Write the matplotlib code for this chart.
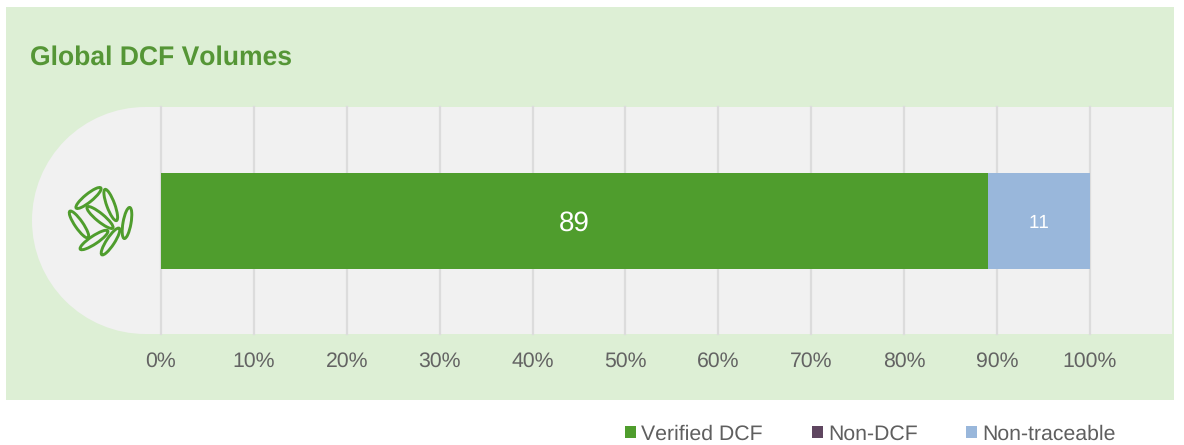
import math
import matplotlib
matplotlib.use('Agg')
import matplotlib.pyplot as plt
from matplotlib.patches import Ellipse, Rectangle, Wedge

plt.rcParams['font.family'] = ['Liberation Sans', 'DejaVu Sans']
plt.rcParams['text.hinting'] = 'none'
plt.rcParams['text.kerning_factor'] = 6

# Data
row_label = ['Global']
series_names = ['Verified DCF', 'Non-DCF', 'Non-traceable']
series_values = [89, 0, 11]
series_colors = ['#4F9D2D', '#5F4660', '#99B7DB']
value_colors = ['white', 'white', 'white']
value_sizes = [20, 13.5, 13.5]
x_ticks = [0, 10, 20, 30, 40, 50, 60, 70, 80, 90, 100]
x_tick_labels = ['0%', '10%', '20%', '30%', '40%', '50%', '60%', '70%', '80%', '90%', '100%']

W, H = 1184, 445
fig = plt.figure(figsize=(W / 100, H / 100), dpi=100, facecolor='white')

# Background shapes and rice icon, in pixel coordinates
bg = fig.add_axes([0, 0, 1, 1], zorder=0)
bg.set_xlim(0, W)
bg.set_ylim(H, 0)
bg.axis('off')
bg.add_patch(Rectangle((6, 7), 1168, 393, color='#DDEFD5', lw=0))
bg.add_patch(Wedge((145.5, 220.5), 113.5, 90, 270, color='#F1F1F1', lw=0))
bg.add_patch(Rectangle((145, 107), 1027, 227, color='#F1F1F1', lw=0))

# grain end points
grains = [
    (75, 209, 102, 187), (104.5, 188, 117, 222), (130, 206, 124, 240),
    (86, 206, 114, 229), (69, 210, 89, 239), (79, 250, 109, 230),
    (120, 227, 101, 256),
]
for x0, y0, x1, y1 in grains:
    bg.add_patch(Ellipse(((x0 + x1) / 2, (y0 + y1) / 2), math.hypot(x1 - x0, y1 - y0) - 3, 8,
                         angle=math.degrees(math.atan2(y1 - y0, x1 - x0)),
                         fc='none', ec='#4F9D2D', lw=2.1))

# Chart
ax = fig.add_axes([161 / W, 1 - 334 / H, (1172 - 161) / W, 227 / H], zorder=1)
ax.patch.set_alpha(0)
left = 0
handles = []
for name, value, color, tc, ts in zip(series_names, series_values, series_colors, value_colors, value_sizes):
    bars = ax.barh(row_label, [value], left=left, height=0.423, color=color, label=name, zorder=3)
    handles.append(bars)
    if value > 0:
        ax.text(left + value / 2, 0, str(value), ha='center', va='center_baseline', color=tc, fontsize=ts, zorder=4)
    left += value

ax.set_xlim(0, 108.83)
ax.set_ylim(-0.498, 0.502)
ax.set_xticks(x_ticks)
ax.set_xticklabels(x_tick_labels, fontsize=15.3, color='#636363')
ax.set_yticks([])
ax.tick_params(axis='x', length=0, pad=13)
ax.grid(axis='x', color='#DCDCDC', lw=1.6, clip_on=False, zorder=1)
ax.set_axisbelow(True)
for s in ax.spines.values():
    s.set_visible(False)

fig.text(30 / W, 1 - 58 / H, 'Global DCF Volumes', fontsize=19.1, fontweight='bold',
         color='#559636', ha='left', va='center')

leg = fig.legend(handles=handles, labels=series_names, ncol=3, frameon=False,
                 loc='lower left', bbox_to_anchor=(625 / W, 1 - 444 / H),
                 fontsize=15.3, labelcolor='#5F5F5F', borderpad=0, borderaxespad=0,
                 handlelength=0.52, handleheight=0.52, handletextpad=0.24, columnspacing=2.3)

fig.savefig('out.png', dpi=100)
